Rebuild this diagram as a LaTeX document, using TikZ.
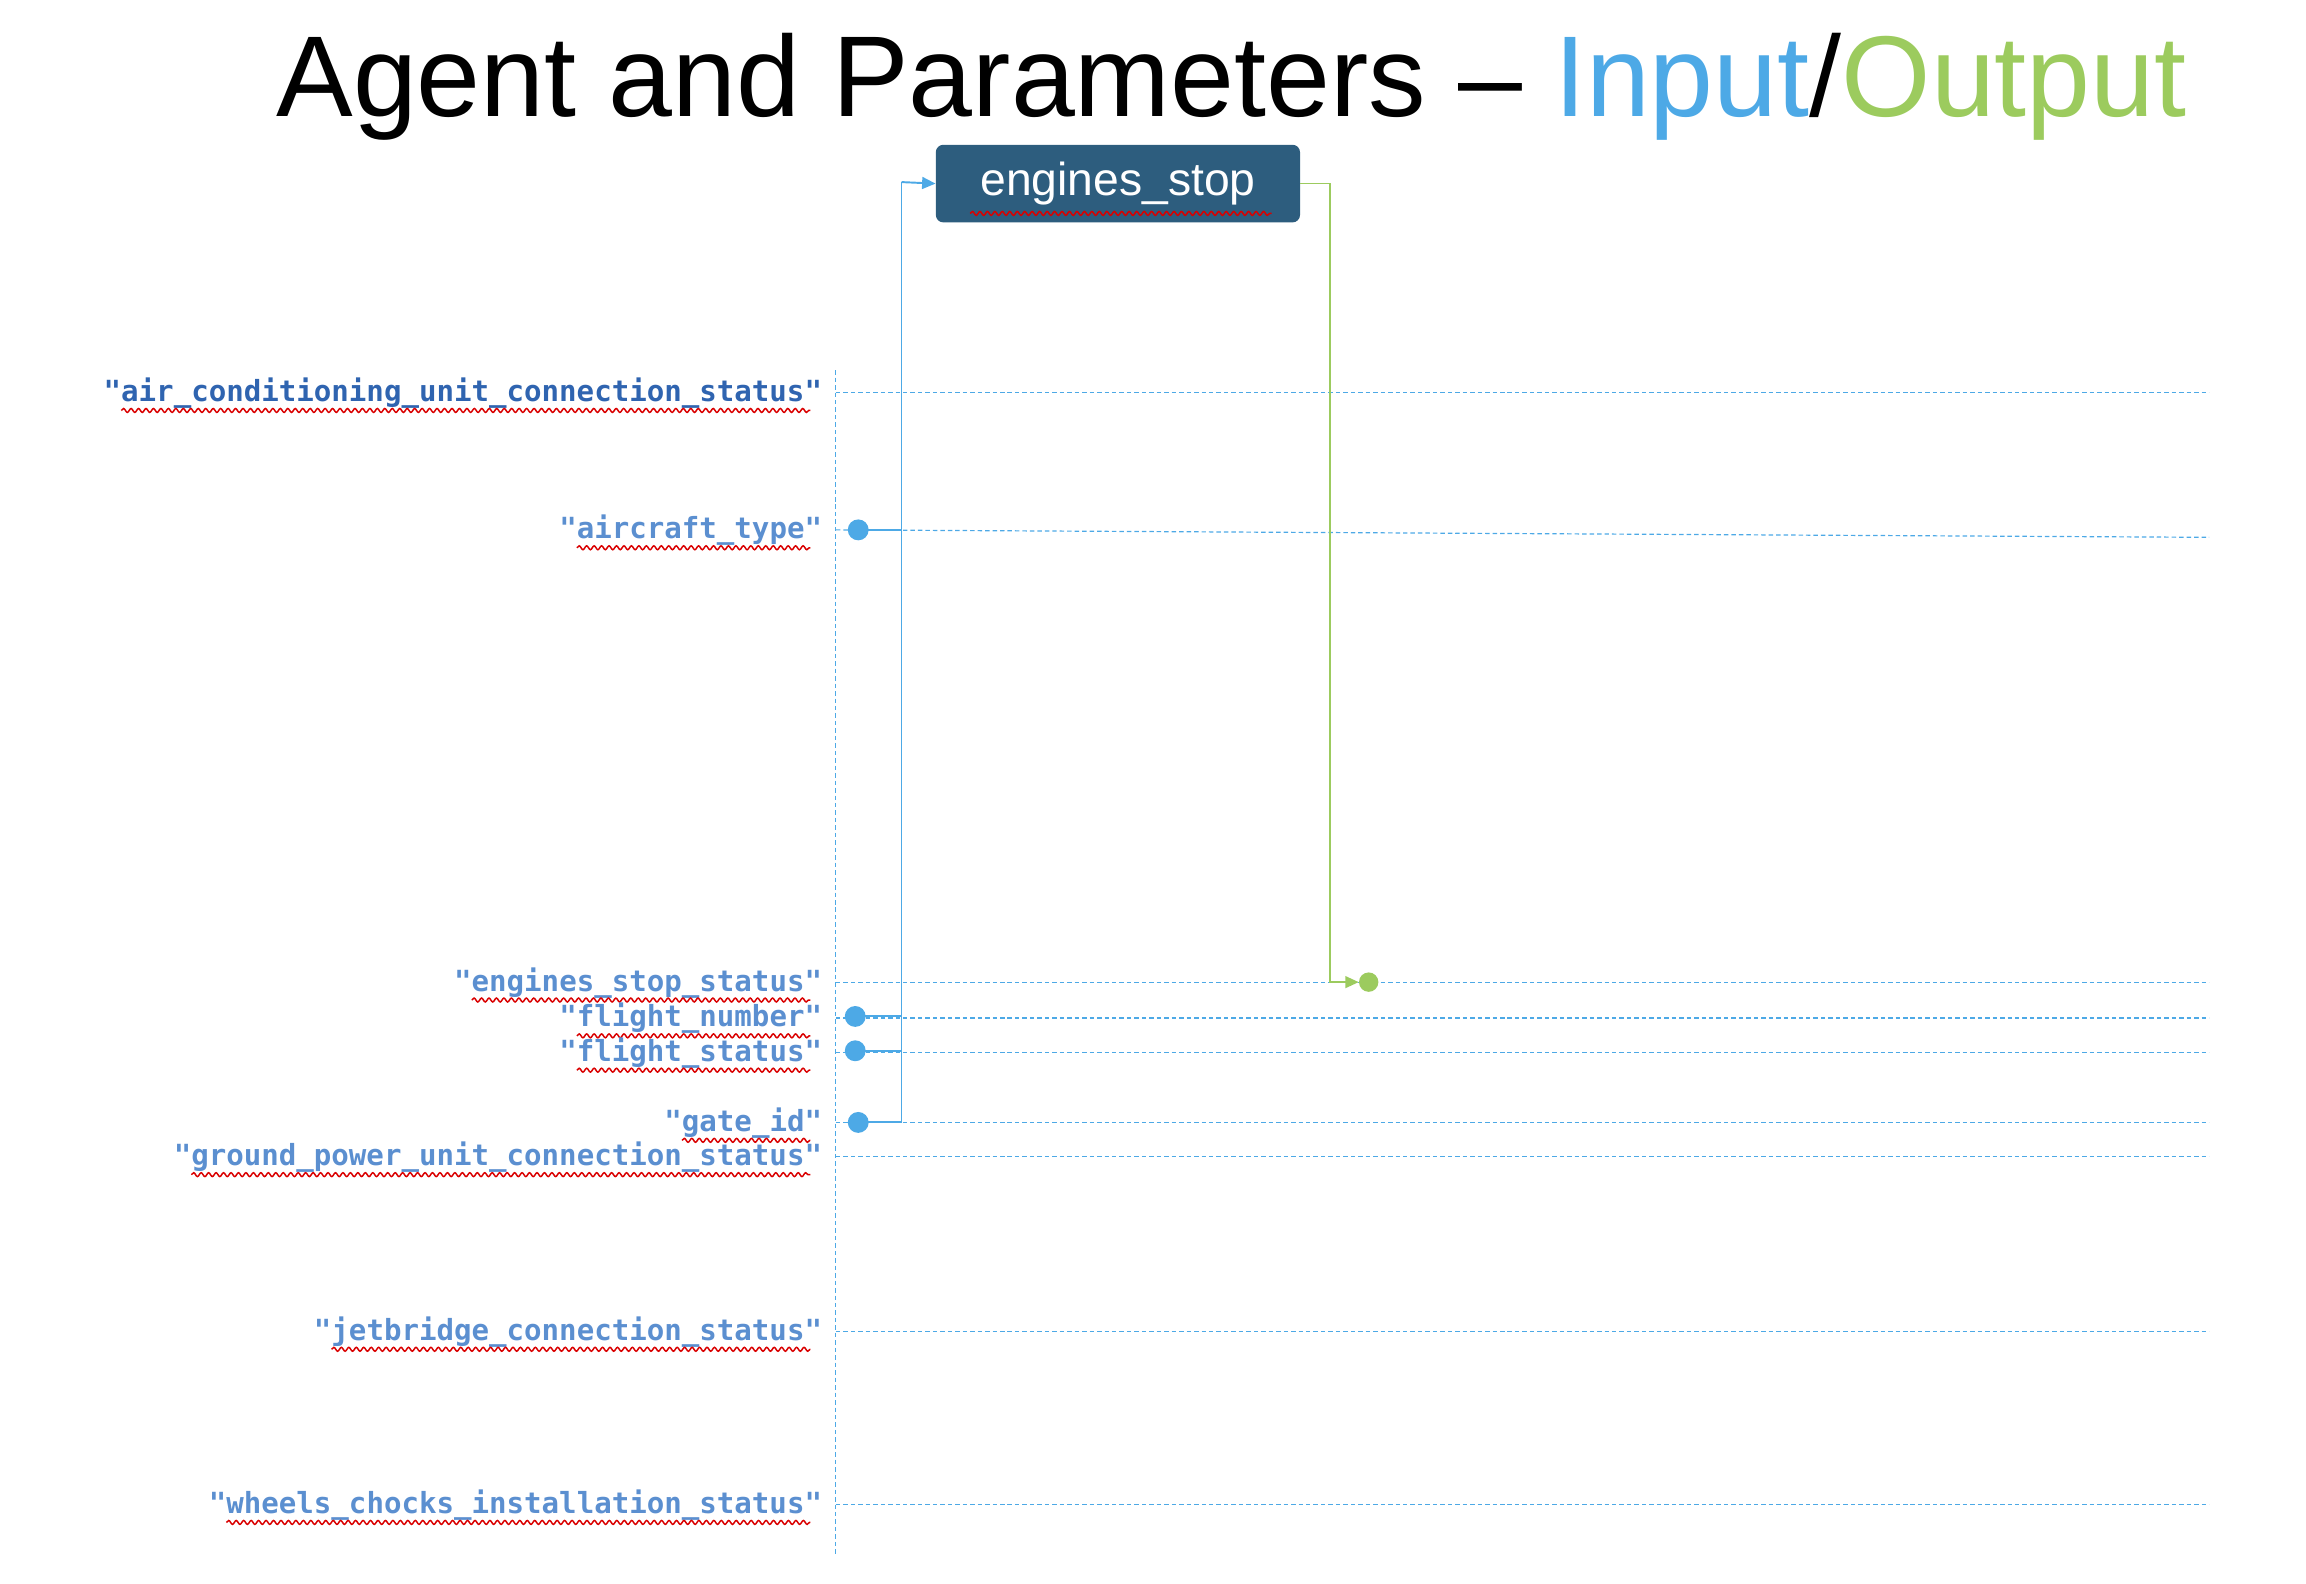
\documentclass[tikz,border=0pt]{standalone}
\usepackage{fontspec}
\setmainfont{Liberation Sans}
\newfontfamily\monof{DejaVu Sans Mono}
\usetikzlibrary{decorations.pathmorphing,arrows.meta}
\definecolor{inblue}{HTML}{4DA9E6}
\definecolor{outgreen}{HTML}{9CCB5E}
\definecolor{lblblue}{HTML}{5B8FD0}
\definecolor{lbldark}{HTML}{2F64B0}
\definecolor{boxblue}{HTML}{2D5D7E}
\begin{document}
\begin{tikzpicture}[x=1pt,y=-1pt,
  lbl/.style={anchor=base east,font=\monof\bfseries\fontsize{19.5}{20}\selectfont,text=lblblue,inner sep=0pt},
  grid/.style={inblue,dashed,line width=0.8pt,dash pattern=on 3pt off 2pt},
  dot/.style={circle,fill=#1,inner sep=0pt,minimum size=14pt},
  wavy/.style={red!85!black,line width=1pt,decorate,decoration={snake,amplitude=1.3pt,segment length=5pt}},
  inl/.style={inblue,line width=1.3pt},
  outl/.style={outgreen,line width=1.1pt}]
\useasboundingbox (0,0) rectangle (1545,1061);
\node[anchor=base west,inner sep=0pt,font=\fontsize{77}{90}\selectfont] (title) at (185,78) {Agent and Parameters -- \textcolor{inblue}{Input}/\textcolor{outgreen}{Output}};
\node[fill=boxblue,rounded corners=5pt,minimum width=244pt,minimum height=52pt,text=white,font=\fontsize{31}{32}\selectfont] (agent) at (749,123) {engines\_stop};
\draw[wavy] (650,143) -- (852,143);
\coordinate (vt) at (560,248); \coordinate (vb) at (560,1042);
\draw[grid] (vt) -- (vb);
\foreach \n/\y/\r/\t/\c in {a/263/263/air\_conditioning\_unit\_connection\_status/lbldark,
  b/355/360/aircraft\_type/lblblue,
  c/658/658/engines\_stop\_status/lblblue,
  d/682/682/flight\_number/lblblue,
  e/705/705/flight\_status/lblblue,
  f/752/752/gate\_id/lblblue,
  g/775/775/ground\_power\_unit\_connection\_status/lblblue,
  h/892/892/jetbridge\_connection\_status/lblblue,
  i/1008/1008/wheels\_chocks\_installation\_status/lblblue}{
  \node[lbl,text=\c] (L\n) at (551,\y+6) {"\t"};
  \draw[wavy] ([xshift=12pt,yshift=-6pt]L\n.base west) -- ([xshift=-8pt,yshift=-6pt]L\n.base east);
  \coordinate (S\n) at (560,\y); \coordinate (E\n) at (1480,\r);
  \draw[grid] (S\n) -- (E\n);
}
\node[dot=inblue] (db) at (575,355) {};
\node[dot=inblue] (dd) at (573,681) {};
\node[dot=inblue] (de) at (573,704) {};
\node[dot=inblue] (df) at (575,752) {};
\coordinate (bus) at (604,122);
\draw[inl] (df.center) -- (604,752) -- (bus);
\draw[inl,-{Triangle[length=9pt,width=8pt]}] (bus) -- (agent.west);
\draw[inl] (db.center) -- (604,355);
\draw[inl] (dd.center) -- (604,681);
\draw[inl] (de.center) -- (604,704);
\node[dot=outgreen,minimum size=13pt] (oc) at (917,658) {};
\draw[outl,-{Triangle[length=9pt,width=8pt]}] (agent.east) -- (891,123) -- (891,658) -- (oc.west);
\end{tikzpicture}
\end{document}
